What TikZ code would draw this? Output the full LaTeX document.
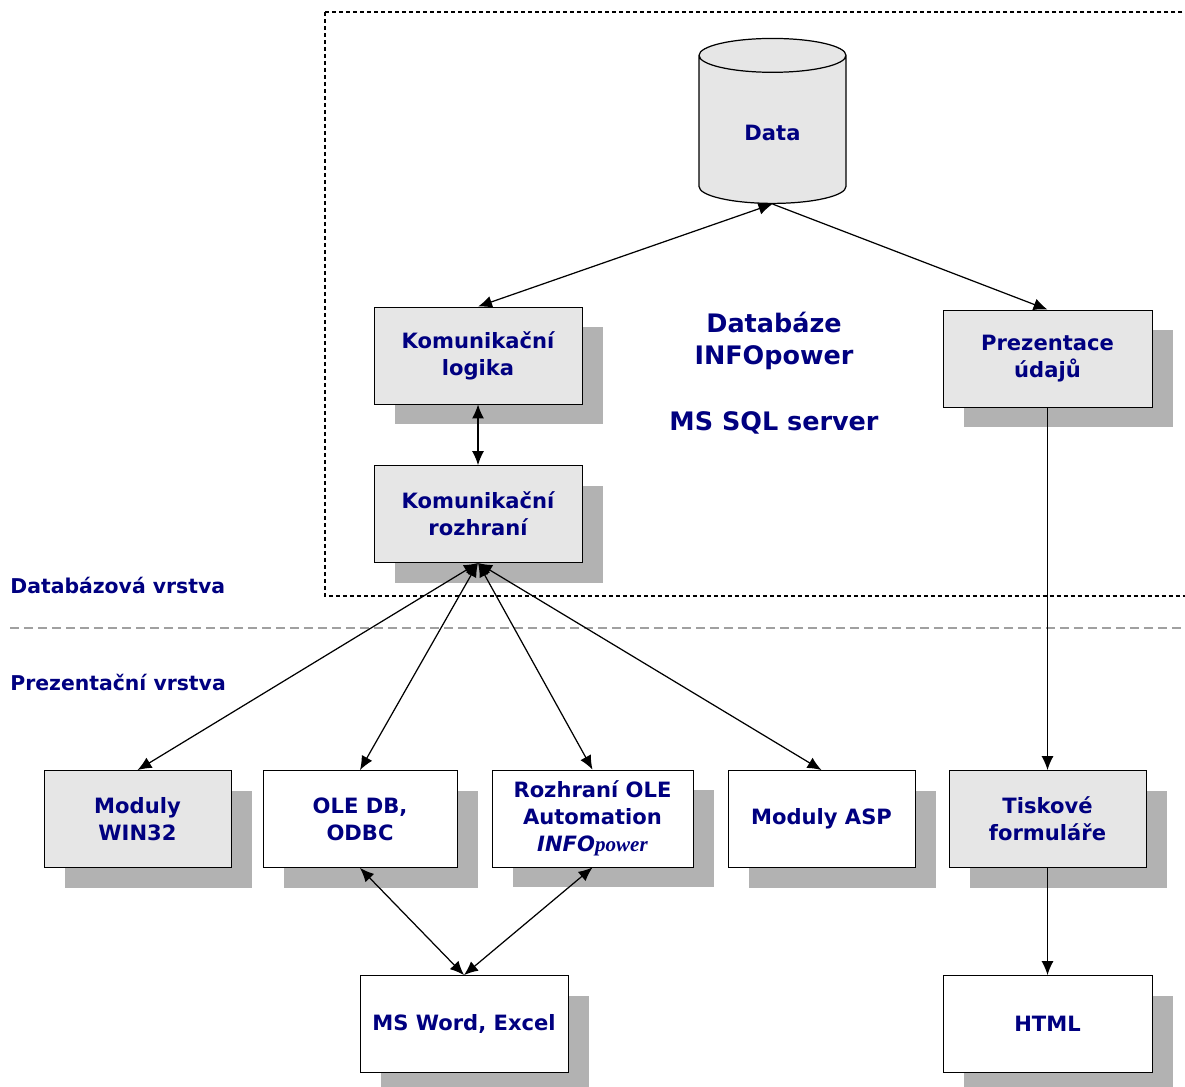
\documentclass[tikz,border=0pt]{standalone}
\usepackage{fontspec}
\setmainfont{DejaVu Sans}
\newfontfamily\powerfont{Liberation Serif}
\usetikzlibrary{arrows.meta,shapes.geometric,shadows}
\definecolor{navy}{RGB}{0,0,128}
\definecolor{boxfill}{RGB}{230,230,230}
\definecolor{shadowgray}{RGB}{178,178,178}
\definecolor{layerline}{RGB}{160,160,160}
\newcommand{\boxh}{1.94cm}
\newcommand{\infopower}{\textit{INFO}{\powerfont\bfseries\itshape power}}

\begin{document}
\begin{tikzpicture}[x=0.02cm,y=-0.02cm,
  txt/.style={text=navy,font=\bfseries\fontsize{12}{15.4}\selectfont,align=center},
  blok/.style={txt,draw,line width=0.5pt,inner sep=0pt,minimum height=\boxh,
    drop shadow={shadow xshift=0.42cm,shadow yshift=-0.40cm,fill=shadowgray,opacity=1}},
  sedy/.style={blok,fill=boxfill},
  bily/.style={blok,fill=white},
  sipka/.style={line width=0.7pt,-{Latex[length=2.8mm,width=2.4mm]}},
  obe/.style={line width=0.7pt,{Latex[length=2.8mm,width=2.4mm]}-{Latex[length=2.8mm,width=2.4mm]}}]
\useasboundingbox (0,0) rectangle (1185,1086);
%server
\draw[line width=0.7pt,dash pattern=on 0.08cm off 0.06cm] (325,12) rectangle (1195,596);
\draw[layerline,line width=1.4pt,dash pattern=on 0.18cm off 0.1cm] (10,628) -- (1185,628);
\node[txt,anchor=west,inner sep=0pt,font=\bfseries\fontsize{11.6}{14}\selectfont] (dbvrstva) at (10,585) {Databázová vrstva};
\node[txt,anchor=west,inner sep=0pt,font=\bfseries\fontsize{11.6}{14}\selectfont] (prvrstva) at (10,682) {Prezentační vrstva};
\node[txt,font=\bfseries\fontsize{14.5}{18.2}\selectfont] (server) at (774,373)
  {Databáze\\INFOpower\\[19pt]MS SQL server};
%databaze
\node[cylinder,shape border rotate=90,aspect=0.5,draw,line width=0.7pt,fill=boxfill,
  minimum height=3.3cm,minimum width=2.94cm,txt] (data) at (772.5,133) {Data};
\node[sedy,minimum width=4.16cm] (kl) at (478,355.5) {Komunikační\\logika};
\node[sedy,minimum width=4.16cm] (kr) at (478,514) {Komunikační\\rozhraní};
\node[sedy,minimum width=4.18cm] (pu) at (1047.5,358.5) {Prezentace\\údajů};
%prezentace
\node[sedy,minimum width=3.74cm] (win) at (137.5,819) {Moduly\\WIN32};
\node[bily,minimum width=3.88cm] (ole) at (360,819) {OLE DB,\\ODBC};
\node[bily,minimum width=4.02cm] (auto) at (592.5,818.5) {Rozhraní OLE\\Automation\\\infopower};
\node[bily,minimum width=3.74cm] (asp) at (821.5,819) {Moduly ASP};
\node[sedy,minimum width=3.94cm] (tisk) at (1047.5,819) {Tiskové\\formuláře};
\node[bily,minimum width=4.16cm] (word) at (464,1024) {MS Word, Excel};
\node[bily,minimum width=4.18cm] (html) at (1047.5,1024) {HTML};
%spoje
\draw[obe] (data.south) -- (kl.north);
\draw[sipka] (data.south) -- (pu.north);
\draw[obe] (kl.south) -- (kr.north);
\draw[obe] (kr.south) -- (win.north);
\draw[obe] (kr.south) -- (ole.north);
\draw[obe] (kr.south) -- (auto.north);
\draw[obe] (kr.south) -- (asp.north);
\draw[sipka] (pu.south) -- (tisk.north);
\draw[sipka] (tisk.south) -- (html.north);
\draw[obe] (ole.south) -- (word.north);
\draw[obe] (auto.south) -- (word.north);
\end{tikzpicture}
\end{document}
